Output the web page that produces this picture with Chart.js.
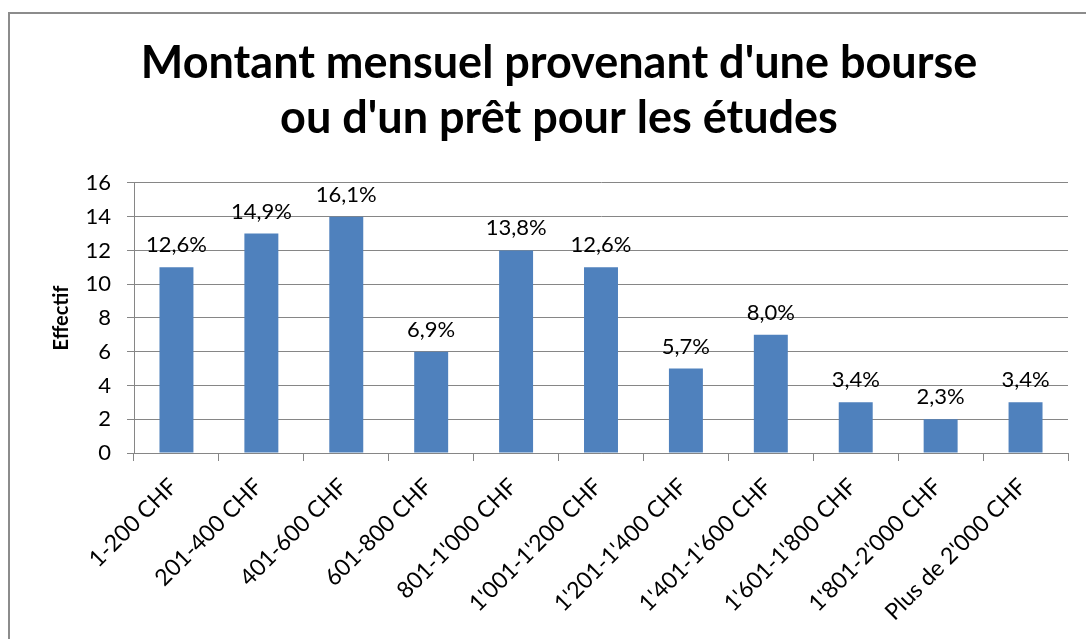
<!DOCTYPE html>
<html>
<head>
<meta charset="utf-8">
<script src="https://cdn.jsdelivr.net/npm/chart.js@4.4.1/dist/chart.umd.min.js"></script>
<style>
  html, body { margin: 0; padding: 0; background: #fff; overflow: hidden; }
  #wrap { position: relative; width: 1086px; height: 639px; }
  #frame { position: absolute; left: 8px; top: 12px; width: 1200px; height: 800px; border: 2px solid #8c8c8c; box-sizing: border-box; pointer-events: none; }
  canvas { position: absolute; left: 0; top: 0; }
</style>
</head>
<body>
<div id="wrap">
  <canvas id="c" width="1086" height="639"></canvas>
  <div id="frame"></div>
</div>
<script>
const categories = ["1-200 CHF", "201-400 CHF", "401-600 CHF", "601-800 CHF", "801-1'000 CHF", "1'001-1'200 CHF", "1'201-1'400 CHF", "1'401-1'600 CHF", "1'601-1'800 CHF", "1'801-2'000 CHF", "Plus de 2'000 CHF"];
const effectif = [11, 13, 14, 6, 12, 11, 5, 7, 3, 2, 3];
const pourcentages = ["12,6%", "14,9%", "16,1%", "6,9%", "13,8%", "12,6%", "5,7%", "8,0%", "3,4%", "2,3%", "3,4%"];
const titleLines = ["Montant mensuel provenant d'une bourse", "ou d'un prêt pour les études"];
const yTitle = "Effectif";

const FONT = "Lato, 'Liberation Sans', sans-serif";

const labelPlugin = {
  id: 'pctLabels',
  afterDatasetsDraw(chart) {
    const ctx = chart.ctx;
    const meta = chart.getDatasetMeta(0);
    ctx.save();
    ctx.font = "22px " + FONT;
    ctx.fillStyle = "#000";
    ctx.textAlign = "center";
    ctx.textBaseline = "alphabetic";
    meta.data.forEach((bar, i) => {
      ctx.fillText(pourcentages[i], bar.x, bar.y - 15);
    });
    ctx.restore();
  }
};

new Chart(document.getElementById('c'), {
  type: 'bar',
  data: {
    labels: categories,
    datasets: [{
      data: effectif,
      backgroundColor: '#4F81BD',
      borderWidth: 0,
      barPercentage: 0.4,
      categoryPercentage: 1.0
    }]
  },
  plugins: [labelPlugin],
  options: {
    responsive: false,
    animation: false,
    devicePixelRatio: 1,
    layout: { padding: { left: 50, right: 18, top: 0, bottom: 0 } },
    plugins: {
      legend: { display: false },
      tooltip: { enabled: false },
      title: {
        display: true,
        text: titleLines,
        color: '#000',
        font: { family: FONT, size: 45, weight: 'bold', lineHeight: 1.222 },
        padding: { top: 36, bottom: 37 }
      }
    },
    scales: {
      x: {
        grid: { offset: true, drawOnChartArea: false, drawTicks: true, tickLength: 8, color: '#868686', lineWidth: 1 },
        border: { display: true, color: '#868686', width: 1 },
        ticks: { color: '#000', font: { family: FONT, size: 23 }, minRotation: 45, maxRotation: 45, autoSkip: false, padding: 12, labelOffset: -3 },
        afterFit(scale) { scale.height = 186; }
      },
      y: {
        min: 0, max: 16,
        ticks: { stepSize: 2, color: '#000', font: { family: FONT, size: 22 }, padding: 16 },
        grid: { color: '#868686', lineWidth: 1, tickLength: 7 },
        border: { display: true, color: '#868686', width: 1 },
        title: { display: true, text: yTitle, color: '#000', font: { family: FONT, size: 20, weight: 'bold' }, padding: { top: 0, bottom: 0 } },
        afterFit(scale) { scale.width = 84; }
      }
    }
  }
});
</script>
</body>
</html>
